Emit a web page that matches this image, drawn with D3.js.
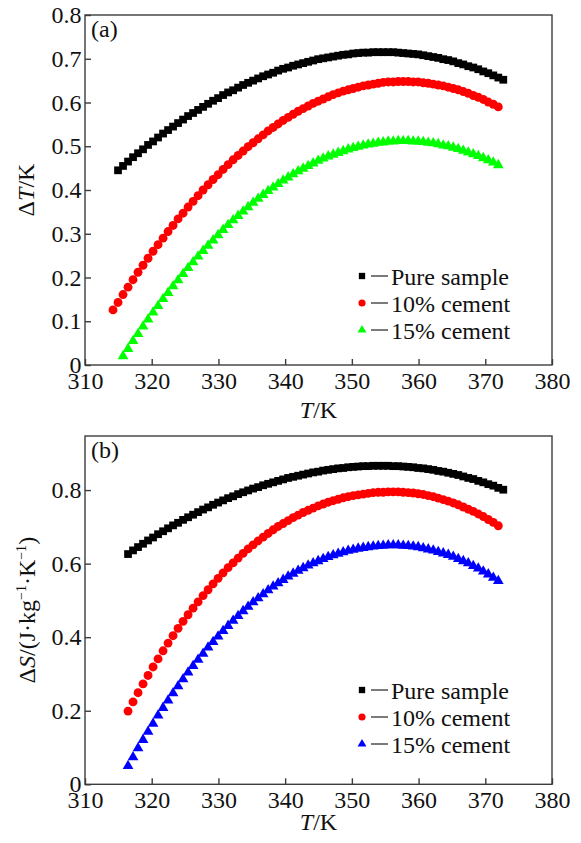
<!DOCTYPE html>
<meta charset="utf-8">
<script src="https://d3js.org/d3.v7.min.js"></script>
<style>
  body { margin: 0; background: #fff; }
  svg text { font-family: "Liberation Serif", "Tinos", "Times New Roman", "DejaVu Serif", serif; fill: #111; }
</style>
<body>
<div id="chart"></div>
<script>

// temperature grid (K), shared by all series
var temps = [314.2,314.95,315.7,316.45,317.2,317.95,318.7,319.45,320.2,320.95,321.7,322.45,323.2,323.95,324.7,325.45,326.2,326.95,327.7,328.45,
  329.2,329.95,330.7,331.45,332.2,332.95,333.7,334.45,335.2,335.95,336.7,337.45,338.2,338.95,339.7,340.45,341.2,341.95,342.7,343.45,
  344.2,344.95,345.7,346.45,347.2,347.95,348.7,349.45,350.2,350.95,351.7,352.45,353.2,353.95,354.7,355.45,356.2,356.95,357.7,358.45,
  359.2,359.95,360.7,361.45,362.2,362.95,363.7,364.45,365.2,365.95,366.7,367.45,368.2,368.95,369.7,370.45,371.2,371.95,372.7];

// (a) temperature change, K
var pureA = [null,0.445,0.455,0.465,0.475,0.484,0.493,0.503,0.511,0.520,0.529,0.537,0.545,0.553,0.561,0.569,0.576,0.583,0.590,0.597,
  0.604,0.610,0.617,0.623,0.628,0.634,0.640,0.645,0.650,0.655,0.660,0.664,0.668,0.673,0.677,0.680,0.684,0.687,0.690,0.693,
  0.696,0.699,0.701,0.703,0.705,0.707,0.709,0.710,0.712,0.713,0.714,0.714,0.715,0.715,0.715,0.715,0.715,0.714,0.713,0.712,
  0.711,0.710,0.708,0.706,0.704,0.702,0.699,0.697,0.694,0.690,0.687,0.683,0.680,0.676,0.671,0.667,0.662,0.657,0.652];
var cem10A = [0.126,0.143,0.161,0.178,0.195,0.212,0.228,0.244,0.260,0.275,0.290,0.305,0.319,0.334,0.347,0.361,0.374,0.387,0.400,0.412,
  0.424,0.435,0.447,0.458,0.469,0.479,0.489,0.499,0.508,0.517,0.526,0.535,0.543,0.551,0.559,0.566,0.573,0.580,0.586,0.592,
  0.598,0.603,0.608,0.613,0.618,0.622,0.626,0.629,0.632,0.635,0.638,0.640,0.642,0.644,0.646,0.647,0.647,0.648,0.648,0.648,
  0.647,0.647,0.645,0.644,0.642,0.640,0.638,0.635,0.632,0.629,0.625,0.621,0.616,0.612,0.607,0.601,0.596,0.590,null];
var cem15A = [null,null,0.020,0.037,0.055,0.071,0.088,0.104,0.120,0.135,0.151,0.165,0.180,0.194,0.208,0.222,0.235,0.248,0.261,0.273,
  0.285,0.297,0.309,0.320,0.331,0.341,0.351,0.361,0.371,0.380,0.389,0.398,0.406,0.414,0.422,0.429,0.436,0.443,0.449,0.455,
  0.461,0.467,0.472,0.477,0.481,0.485,0.489,0.493,0.496,0.499,0.502,0.504,0.506,0.508,0.509,0.511,0.511,0.512,0.512,0.512,
  0.511,0.511,0.510,0.508,0.507,0.505,0.502,0.500,0.497,0.494,0.490,0.486,0.482,0.478,0.473,0.468,0.463,0.457,null];

// (b) entropy change, J/(kg K)
var pureB = [null,null,null,0.626,0.636,0.645,0.654,0.663,0.671,0.680,0.688,0.696,0.704,0.711,0.719,0.726,0.733,0.740,0.747,0.753,
  0.760,0.766,0.772,0.778,0.783,0.789,0.794,0.799,0.804,0.808,0.813,0.817,0.821,0.825,0.829,0.833,0.836,0.839,0.842,0.845,
  0.848,0.850,0.853,0.855,0.857,0.859,0.860,0.862,0.863,0.864,0.865,0.865,0.866,0.866,0.866,0.866,0.865,0.865,0.864,0.863,
  0.862,0.860,0.859,0.857,0.855,0.852,0.850,0.847,0.844,0.841,0.837,0.833,0.830,0.825,0.821,0.816,0.812,0.806,0.801];
var cem10B = [null,null,null,0.199,0.224,0.249,0.273,0.296,0.319,0.341,0.363,0.384,0.404,0.424,0.443,0.461,0.479,0.496,0.513,0.529,
  0.545,0.560,0.575,0.589,0.602,0.615,0.628,0.640,0.651,0.662,0.672,0.682,0.692,0.701,0.709,0.717,0.725,0.732,0.739,0.745,
  0.751,0.757,0.762,0.767,0.771,0.775,0.779,0.782,0.785,0.787,0.789,0.791,0.793,0.794,0.794,0.795,0.795,0.795,0.794,0.793,
  0.792,0.790,0.788,0.785,0.782,0.778,0.774,0.770,0.765,0.760,0.754,0.748,0.742,0.735,0.728,0.720,0.712,0.703,null];
var cem15B = [null,null,null,0.050,0.074,0.098,0.121,0.143,0.165,0.187,0.208,0.228,0.248,0.267,0.286,0.304,0.322,0.339,0.355,0.372,
  0.387,0.402,0.417,0.431,0.445,0.458,0.471,0.483,0.495,0.506,0.517,0.528,0.538,0.547,0.556,0.565,0.573,0.581,0.588,0.595,
  0.601,0.607,0.613,0.618,0.623,0.627,0.631,0.635,0.638,0.641,0.643,0.645,0.647,0.648,0.649,0.650,0.650,0.650,0.649,0.648,
  0.647,0.645,0.642,0.639,0.636,0.632,0.628,0.624,0.619,0.613,0.607,0.601,0.594,0.587,0.579,0.571,0.562,0.553,null];

var seriesNames = ["Pure sample", "10% cement", "15% cement"];
var xTicks = [310, 320, 330, 340, 350, 360, 370, 380];
var yTicksA = [0, 0.1, 0.2, 0.3, 0.4, 0.5, 0.6, 0.7, 0.8];
var yTicksB = [0, 0.2, 0.4, 0.6, 0.8];

var width = 581, height = 843;
var left = 85, right = 552;
var fs = 24;
var serif = '"Liberation Serif", "Tinos", "Times New Roman", "DejaVu Serif", serif';

var svg = d3.select("#chart").append("svg")
    .attr("width", width)
    .attr("height", height)
    .attr("font-family", serif);

var x = d3.scaleLinear().domain([310, 380]).range([left, right]);

var shapes = [d3.symbolSquare, d3.symbolCircle, d3.symbolTriangle];
var sizes = [60, 62, 50];

var panels = [
  { tag: "(a)", top: 15, bottom: 365, ymax: 0.8, ticks: yTicksA,
    data: [pureA, cem10A, cem15A], colors: ["#000000", "#ff0000", "#00ff00"],
    legendY: 276, xTitleY: 418, yTitleX: 34 },
  { tag: "(b)", top: 436, bottom: 784.3, ymax: 0.947, ticks: yTicksB,
    data: [pureB, cem10B, cem15B], colors: ["#000000", "#ff0000", "#0000ff"],
    legendY: 690, xTitleY: 830, yTitleX: 35 }
];

panels.forEach(function(p, pi) {
  var y = d3.scaleLinear().domain([0, p.ymax]).range([p.bottom, p.top]);
  var g = svg.append("g");

  // markers
  p.data.forEach(function(vals, si) {
    var pts = temps.map(function(t, i) { return { t: t, v: vals[i] }; })
      .filter(function(d) { return d.v != null; });
    g.append("g").selectAll("path")
      .data(pts)
      .enter().append("path")
        .attr("d", d3.symbol().type(shapes[si]).size(sizes[si]))
        .attr("transform", function(d) { return "translate(" + x(d.t) + "," + y(d.v) + ")"; })
        .attr("fill", p.colors[si]);
  });

  // frame
  g.append("rect")
    .attr("x", left).attr("y", p.top)
    .attr("width", right - left).attr("height", p.bottom - p.top)
    .attr("fill", "none").attr("stroke", "#3c3c3c").attr("stroke-width", 1.4);

  var xAxis = g.append("g")
    .attr("transform", "translate(0," + p.bottom + ")")
    .call(d3.axisBottom(x).tickValues(xTicks).tickSizeInner(-6).tickSizeOuter(0).tickPadding(7));
  var yAxis = g.append("g")
    .attr("transform", "translate(" + left + ",0)")
    .call(d3.axisLeft(y).tickValues(p.ticks).tickSizeInner(-6).tickSizeOuter(0).tickPadding(3.5)
      .tickFormat(function(d) { return d === 0 ? "0" : d.toFixed(1); }));
  [xAxis, yAxis].forEach(function(a) {
    a.attr("font-family", serif).attr("font-size", fs);
    a.select(".domain").remove();
    a.selectAll("line").attr("stroke", "#3c3c3c").attr("stroke-width", 1.4);
    a.selectAll("text").attr("fill", "#111");
  });

  // panel tag
  g.append("text").attr("x", 91).attr("y", p.top + 22)
    .attr("font-size", fs).text(p.tag);

  // x title
  var xt = g.append("text").attr("x", (left + right) / 2).attr("y", p.xTitleY)
    .attr("text-anchor", "middle").attr("font-size", fs);
  xt.append("tspan").attr("font-style", "italic").text("T");
  xt.append("tspan").text("/K");

  // y title
  var yt = g.append("text")
    .attr("transform", "translate(" + p.yTitleX + "," + (p.top + p.bottom) / 2 + ") rotate(-90)")
    .attr("text-anchor", "middle").attr("font-size", fs);
  if (pi === 0) {
    yt.append("tspan").text("\u0394");
    yt.append("tspan").attr("font-style", "italic").text("T");
    yt.append("tspan").text("/K");
  } else {
    yt.append("tspan").text("\u0394");
    yt.append("tspan").attr("font-style", "italic").text("S");
    yt.append("tspan").text("/(J\u00b7kg");
    yt.append("tspan").attr("font-size", 14).attr("dy", -9).text("\u22121");
    yt.append("tspan").attr("dy", 9).text("\u00b7K");
    yt.append("tspan").attr("font-size", 14).attr("dy", -9).text("\u22121");
    yt.append("tspan").attr("dy", 9).text(")");
  }

  // legend
  seriesNames.forEach(function(name, si) {
    var ly = p.legendY + si * 27;
    g.append("path")
      .attr("d", d3.symbol().type(shapes[si]).size(si === 2 ? 34 : 40))
      .attr("transform", "translate(362," + ly + ")")
      .attr("fill", p.colors[si]);
    g.append("line")
      .attr("x1", 371).attr("x2", 388).attr("y1", ly).attr("y2", ly)
      .attr("stroke", "#333").attr("stroke-width", 1.3);
    g.append("text").attr("x", 391).attr("y", ly + 9)
      .attr("font-size", fs).text(name);
  });
});

</script>
</body>
